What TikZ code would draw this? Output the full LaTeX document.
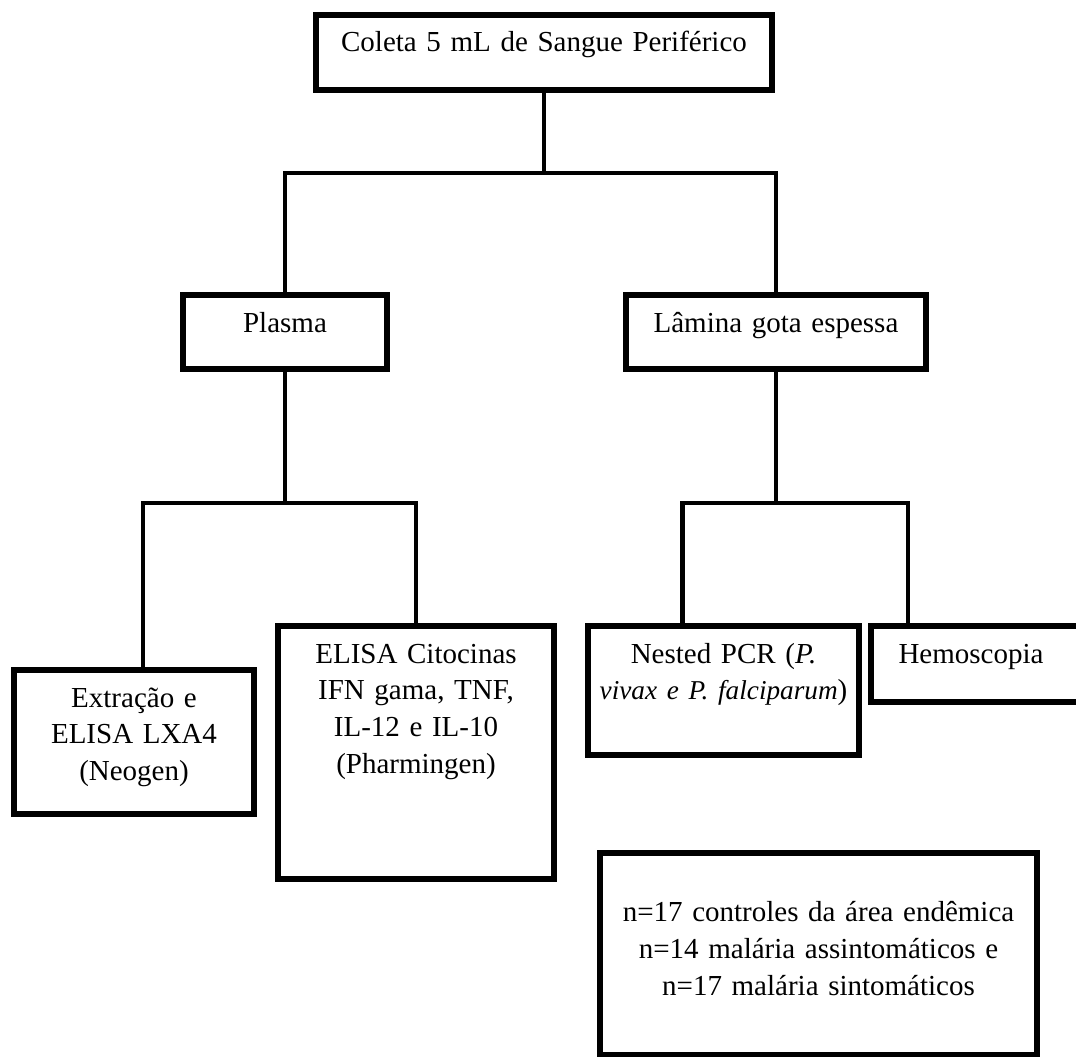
\documentclass[tikz,border=0pt]{standalone}
\usepackage{fontspec}
\setmainfont{Liberation Serif}
\usetikzlibrary{calc}

\begin{document}
\begin{tikzpicture}[x=0.02cm,y=-0.02cm,
                    font=\fontsize{16.5}{21}\selectfont,
                    box/.style={draw,line width=0.12cm,align=center,anchor=north,
                                inner xsep=0pt,inner ysep=0.17cm,text height=0.57cm},
                    link/.style={line width=0.09cm}]

  \useasboundingbox (0,0) rectangle (1076,1056);
  \clip (0,0) rectangle (1076,1056);

  \node[box,text width=9.12cm,text depth=0.59cm] (coleta) at (544,12) {Coleta 5 mL de Sangue Periférico};
  \node[box,text width=4.08cm,text depth=0.57cm] (plasma) at (285,292) {Plasma};
  \node[box,text width=6cm,text depth=0.57cm] (lamina) at (776,292) {Lâmina gota espessa};

  \node[box,text width=4.8cm,text depth=1.97cm] (extr) at (134,667) {Extração e\\ELISA LXA4\\(Neogen)};
  \node[box,text width=5.52cm,text depth=4.15cm] (elisa) at (416,623) {ELISA Citocinas\\IFN gama, TNF,\\IL-12 e IL-10\\(Pharmingen)};
  \node[box,text width=5.42cm,text depth=1.67cm] (nested) at (723.5,623) {Nested PCR (\textit{P.}\\{\fontsize{15.5}{21}\selectfont\textit{vivax e P. falciparum}})};
  \node[box,text width=5cm,text depth=0.61cm] (hemo) at (996,623) {Hemoscopia\kern1cm};

  \node[box,text width=8.74cm,text height=1.21cm,text depth=2.5cm] (amostra) at (818.5,850) {n=17 controles da área endêmica\\n=14 malária assintomáticos e\\n=17 malária sintomáticos};

  % ligacoes
  \path (coleta.south) ++(0,80) coordinate (split1);
  \draw[link] (coleta.south) -- (split1);
  \draw[link] (plasma.north) |- (split1) -| (lamina.north);

  \path (plasma.south) ++(0,131) coordinate (split2);
  \draw[link] (plasma.south) -- (split2);
  \draw[link] ($(extr.north)+(9,0)$) |- (split2) -| (elisa.north);

  \path (lamina.south) ++(0,131) coordinate (split3);
  \draw[link] (lamina.south) -- (split3);
  \draw[link] ($(nested.north)+(-41,0)$) |- (split3) -| ($(hemo.north)+(-88,0)$);

\end{tikzpicture}
\end{document}
